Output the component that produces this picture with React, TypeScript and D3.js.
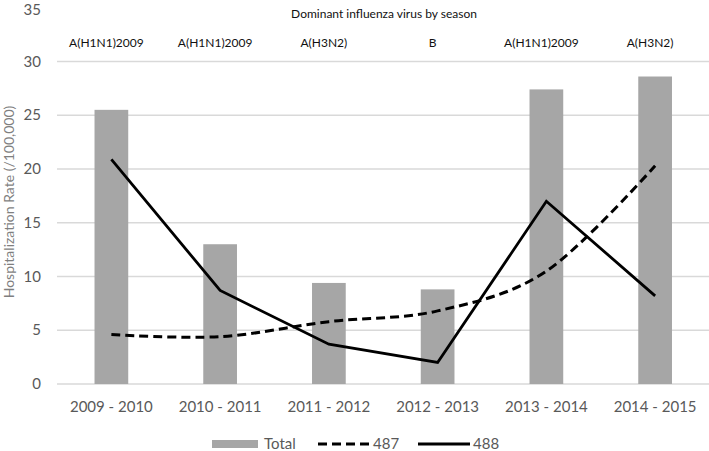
import React from "react";
import * as d3 from "d3";

const seasons = ["2009 - 2010", "2010 - 2011", "2011 - 2012", "2012 - 2013", "2013 - 2014", "2014 - 2015"];
const dominantVirus = ["A(H1N1)2009", "A(H1N1)2009", "A(H3N2)", "B", "A(H1N1)2009", "A(H3N2)"];
const totalValues = [25.5, 13.0, 9.4, 8.8, 27.4, 28.6];
const values487 = [4.6, 4.4, 5.8, 6.8, 10.5, 20.3];
const values488 = [20.9, 8.7, 3.7, 2.0, 17.0, 8.2];
const yTicks = [0, 5, 10, 15, 20, 25, 30, 35];
const gridTicks = [5, 10, 15, 20, 25, 30];

const W = 709;
const H = 451;
const FONT = "Lato, 'Open Sans', sans-serif";

export default function App() {
  const x = d3.scaleBand<string>().domain(seasons).range([57, 709.5]).paddingInner(0.69).paddingOuter(0.345);
  const y = d3.scaleLinear().domain([0, 35]).range([384, 7.7]);
  const cx = (i: number) => (x(seasons[i]) as number) + x.bandwidth() / 2;

  const line = d3.line<number>().x((_, i) => cx(i)).y((d) => y(d));
  const smooth = d3.line<number>().x((_, i) => cx(i)).y((d) => y(d)).curve(d3.curveCatmullRom.alpha(0));

  const grey = "#595959";
  const legendY = 444;

  return (
    <svg width={W} height={H} style={{ position: "absolute", left: 0, top: 0, background: "#fff" }} fontFamily={FONT}>
      {gridTicks.map((t) => (
        <line key={t} x1={57} x2={709} y1={y(t)} y2={y(t)} stroke="#d9d9d9" strokeWidth={1.5} />
      ))}
      <line x1={57} x2={709} y1={y(0)} y2={y(0)} stroke="#d9d9d9" strokeWidth={1.5} />
      {yTicks.map((t) => (
        <text key={t} x={41} y={Math.max(y(t), 9.5)} dy="0.35em" textAnchor="end" fontSize={15} fill={grey}>
          {t}
        </text>
      ))}
      <text
        transform={`translate(${9},${202}) rotate(-90)`}
        textAnchor="middle"
        dy="0.35em"
        fontSize={14}
        fill="#7f7f7f"
      >
        Hospitalization Rate (/100,000)
      </text>
      {totalValues.map((v, i) => (
        <rect key={i} x={x(seasons[i])} y={y(v)} width={x.bandwidth()} height={y(0) - y(v)} fill="#a6a6a6" />
      ))}
      <path d={smooth(values487) || ""} fill="none" stroke="#000" strokeWidth={3} strokeDasharray="9,5" />
      <path d={line(values488) || ""} fill="none" stroke="#000" strokeWidth={2.8} strokeLinejoin="miter" />
      {seasons.map((s, i) => (
        <text key={s} x={cx(i)} y={407} dy="0.35em" textAnchor="middle" fontSize={15} fill={grey}>
          {s}
        </text>
      ))}
      <text x={384} y={14} dy="0.35em" textAnchor="middle" fontSize={12} fill="#111">
        Dominant influenza virus by season
      </text>
      {dominantVirus.map((v, i) => (
        <text key={i} x={cx(i) - 5} y={43} dy="0.35em" textAnchor="middle" fontSize={12} fill="#111">
          {v}
        </text>
      ))}
      <rect x={212} y={legendY - 4} width={46} height={8} fill="#a6a6a6" />
      <text x={264} y={legendY} dy="0.35em" fontSize={15} fill={grey}>Total</text>
      <line x1={318} x2={370} y1={legendY} y2={legendY} stroke="#000" strokeWidth={3} strokeDasharray="9,5" />
      <text x={373} y={legendY} dy="0.35em" fontSize={15} fill={grey}>487</text>
      <line x1={418} x2={470} y1={legendY} y2={legendY} stroke="#000" strokeWidth={2.8} />
      <text x={473} y={legendY} dy="0.35em" fontSize={15} fill={grey}>488</text>
    </svg>
  );
}
